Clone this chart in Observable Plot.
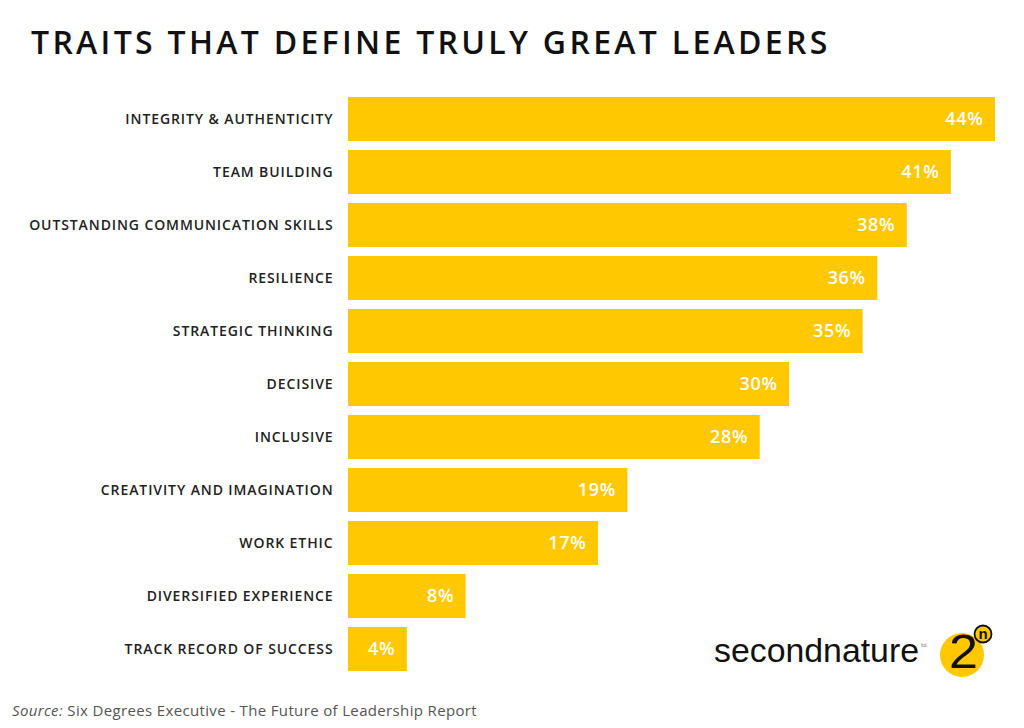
<!DOCTYPE html>
<html>
<head>
<meta charset="utf-8">
<script src="https://cdn.jsdelivr.net/npm/d3@7"></script>
<script src="https://cdn.jsdelivr.net/npm/@observablehq/plot@0.6"></script>
<style>
  html, body { margin: 0; padding: 0; background: #fff; }
  #page { position: relative; width: 1024px; height: 728px; overflow: hidden; font-family: "Open Sans", sans-serif; }
  #title { position: absolute; left: 31px; top: 20px; font-size: 32px; font-weight: 600; letter-spacing: 3.3px; color: #111; white-space: nowrap; }
  #chart { position: absolute; left: 0; top: 80px; }
  #chart g[aria-label="y-axis tick label"] text { letter-spacing: 0.9px; }
  #chart g[aria-label="text"] text { letter-spacing: 0.7px; }
  #source { position: absolute; left: 12px; top: 700px; font-size: 15px; letter-spacing: 0.35px; color: #555; white-space: nowrap; }
  #logo { position: absolute; left: 700px; top: 620px; }
</style>
</head>
<body>
<div id="page">
  <div id="title">TRAITS THAT DEFINE TRULY GREAT LEADERS</div>
  <div id="chart"></div>
  <div id="source"><i>Source:</i> Six Degrees Executive - The Future of Leadership Report</div>
  <svg id="logo" width="324" height="70" viewBox="0 0 324 70">
    <text x="14" y="42" textLength="205" lengthAdjust="spacingAndGlyphs" font-family="Liberation Sans, Arial, sans-serif" font-size="34" fill="#111">secondnature</text>
    <text x="221" y="27" font-family="Liberation Sans, Arial, sans-serif" font-size="5" fill="#777">ltd.</text>
    <circle cx="262" cy="35" r="22" fill="#FFC800"/>
    <text x="249" y="48" textLength="29" lengthAdjust="spacingAndGlyphs" font-family="Liberation Sans, Arial, sans-serif" font-size="49" fill="#111">2</text>
    <circle cx="283" cy="14" r="8.5" fill="#FFC800" stroke="#111" stroke-width="1.8"/>
    <text x="283" y="19" text-anchor="middle" font-family="Liberation Sans, Arial, sans-serif" font-weight="bold" font-size="15" fill="#111">n</text>
  </svg>
</div>
<script>
// Share of respondents naming each trait
const traits = [
  "INTEGRITY & AUTHENTICITY",
  "TEAM BUILDING",
  "OUTSTANDING COMMUNICATION SKILLS",
  "RESILIENCE",
  "STRATEGIC THINKING",
  "DECISIVE",
  "INCLUSIVE",
  "CREATIVITY AND IMAGINATION",
  "WORK ETHIC",
  "DIVERSIFIED EXPERIENCE",
  "TRACK RECORD OF SUCCESS"
];
const shares = [44, 41, 38, 36, 35, 30, 28, 19, 17, 8, 4];

const rows = traits.map((trait, i) => ({trait, share: shares[i]}));

const chart = Plot.plot({
  width: 1024,
  height: 610,
  marginLeft: 348,
  marginRight: 29,
  marginTop: 7,
  marginBottom: 8,
  style: {fontFamily: "'Open Sans', sans-serif", background: "transparent"},
  x: {domain: [0, 44], axis: null},
  y: {domain: traits, padding: 0.165, label: null},
  marks: [
    Plot.barX(rows, {y: "trait", x: "share", fill: "#FFC800"}),
    Plot.text(rows, {
      y: "trait", x: "share", text: d => `${d.share}%`,
      textAnchor: "end", dx: -12, fill: "#fff",
      fontSize: 18, fontWeight: 600
    }),
    Plot.axisY({
      tickSize: 0, tickPadding: 15, fontSize: 14, fontWeight: 600,
      color: "#222", label: null
    })
  ]
});
document.getElementById("chart").appendChild(chart);
</script>
</body>
</html>
